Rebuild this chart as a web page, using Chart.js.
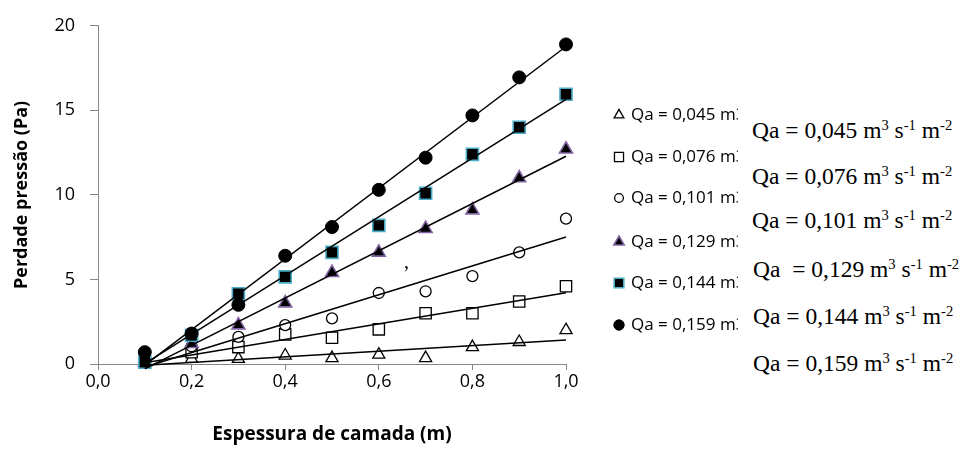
<!DOCTYPE html>
<html>
<head>
<meta charset="utf-8">
<script src="https://cdn.jsdelivr.net/npm/chart.js@4.4.1/dist/chart.umd.min.js"></script>
<style>
  html, body { margin: 0; padding: 0; background: #fff; }
  #wrap { position: relative; width: 967px; height: 454px; }
  .cover { position: absolute; left: 738px; width: 229px; background: #fff; }
  .eq {
    position: absolute; left: 752px; height: 30px; line-height: 30px;
    font-family: "Liberation Serif", "Times New Roman", serif; font-size: 23.5px; color: #000;
    white-space: pre;
  }
  .eq sup { font-size: 0.62em; vertical-align: baseline; position: relative; top: -0.55em; }
  #stray { position: absolute; left: 404px; top: 250px; font: 20px "Liberation Serif", serif; }
</style>
</head>
<body>
<div id="wrap">
  <canvas id="perdaChart" width="967" height="454"></canvas>
  <div class="cover" style="top:100px;height:54px"></div>
  <div class="cover" style="top:153px;height:247px"></div>
  <div class="eq" style="top:115px">Qa = 0,045 m<sup>3</sup> s<sup>-1</sup> m<sup>-2</sup></div>
  <div class="eq" style="top:161px">Qa = 0,076 m<sup>3</sup> s<sup>-1</sup> m<sup>-2</sup></div>
  <div class="eq" style="top:205px">Qa = 0,101 m<sup>3</sup> s<sup>-1</sup> m<sup>-2</sup></div>
  <div class="eq" style="top:254px;left:753px">Qa  = 0,129 m<sup>3</sup> s<sup>-1</sup> m<sup>-2</sup></div>
  <div class="eq" style="top:301px;left:753px">Qa = 0,144 m<sup>3</sup> s<sup>-1</sup> m<sup>-2</sup></div>
  <div class="eq" style="top:348px;left:753px">Qa = 0,159 m<sup>3</sup> s<sup>-1</sup> m<sup>-2</sup></div>
  <span id="stray">,</span>
</div>
<script>
// Espessura de camada (m)
var espessura = [0.1, 0.2, 0.3, 0.4, 0.5, 0.6, 0.7, 0.8, 0.9, 1.0];

// Perda de pressão (Pa) pour chaque débit
var qa045 = [0.1, 0.3, 0.3, 0.5, 0.35, 0.55, 0.35, 1.0, 1.3, 2.0];
var qa076 = [0.1, 0.7, 1.0, 1.75, 1.55, 2.05, 3.0, 3.0, 3.7, 4.6];
var qa101 = [0.1, 1.05, 1.6, 2.3, 2.7, 4.2, 4.3, 5.2, 6.6, 8.6];
var qa129 = [0.1, 1.2, 2.3, 3.6, 5.4, 6.6, 8.0, 9.1, 11.0, 12.7];
var qa144 = [0.1, 1.7, 4.15, 5.15, 6.6, 8.2, 10.1, 12.4, 14.0, 15.95];
var qa159 = [0.7, 1.8, 3.5, 6.4, 8.1, 10.3, 12.2, 14.7, 16.95, 18.9];

var legendLabels = [
    'Qa = 0,045 m3 s-1 m-2',
    'Qa = 0,076 m3 s-1 m-2',
    'Qa = 0,101 m3 s-1 m-2',
    'Qa = 0,129 m3 s-1 m-2',
    'Qa = 0,144 m3 s-1 m-2',
    'Qa = 0,159 m3 s-1 m-2'
];

var series = [qa045, qa076, qa101, qa129, qa144, qa159];

// styles des marqueurs
var markers = [
    { pointStyle: 'triangle', radius: 7,   bg: '#ffffff', border: '#000000', bw: 1.3 },
    { pointStyle: 'rect',     radius: 8,   bg: '#ffffff', border: '#000000', bw: 1.3 },
    { pointStyle: 'circle',   radius: 5.5, bg: '#ffffff', border: '#000000', bw: 1.3 },
    { pointStyle: 'triangle', radius: 7.5, bg: '#000000', border: '#8064A2', bw: 1.6 },
    { pointStyle: 'rect',     radius: 8.5, bg: '#000000', border: '#4BACC6', bw: 1.6 },
    { pointStyle: 'circle',   radius: 6.5, bg: '#000000', border: '#000000', bw: 1 }
];

function toPoints(ys) {
    return ys.map(function (y, i) { return { x: espessura[i], y: y }; });
}

// Linha de tendência linear (mínimos quadrados)
function trend(ys) {
    var n = ys.length, mx = 0, my = 0, sxy = 0, sxx = 0;
    for (var i = 0; i < n; i++) { mx += espessura[i]; my += ys[i]; }
    mx /= n; my /= n;
    for (var j = 0; j < n; j++) {
        sxy += (espessura[j] - mx) * (ys[j] - my);
        sxx += (espessura[j] - mx) * (espessura[j] - mx);
    }
    var b = sxy / sxx, a = my - b * mx;
    var x0 = espessura[0], x1 = espessura[n - 1];
    return [{ x: x0, y: a + b * x0 }, { x: x1, y: a + b * x1 }];
}

var datasets = [];
series.forEach(function (ys, i) {
    datasets.push({
        label: 'trend ' + i,
        data: trend(ys),
        showLine: true,
        borderColor: '#000000',
        borderWidth: 1.5,
        pointRadius: 0,
        clip: false,
        order: 0
    });
});
series.forEach(function (ys, i) {
    var m = markers[i];
    datasets.push({
        label: legendLabels[i],
        data: toPoints(ys),
        pointStyle: m.pointStyle,
        pointRadius: m.radius,
        backgroundColor: m.bg,
        borderColor: m.border,
        borderWidth: m.bw,
        clip: false,
        order: 6 - i
    });
});

var legendRows = [115, 157, 198, 242, 283, 325];

var legendePlugin = {
    id: 'legendePlugin',
    afterDraw: function (chart) {
        var ctx = chart.ctx;
        ctx.save();
        ctx.font = '17px "Open Sans"';
        ctx.textBaseline = 'middle';
        ctx.textAlign = 'left';
        legendLabels.forEach(function (lab, i) {
            var m = markers[i];
            var y = legendRows[i];
            ctx.fillStyle = m.bg;
            ctx.strokeStyle = m.border;
            ctx.lineWidth = m.bw;
            Chart.helpers.drawPoint(ctx, { pointStyle: m.pointStyle, radius: m.radius * 0.8, borderWidth: m.bw, rotation: 0 }, 619, y);
            ctx.fillStyle = '#000000';
            ctx.fillText(lab, 631, y);
        });
        ctx.restore();
    }
};

var ctxPerda = document.getElementById('perdaChart').getContext('2d');
var perdaChart = new Chart(ctxPerda, {
    type: 'scatter',
    data: { datasets: datasets },
    plugins: [legendePlugin],
    options: {
        responsive: false,
        animation: false,
        devicePixelRatio: 1,
        layout: { padding: { left: 0, top: 23, right: 401, bottom: 0 } },
        plugins: { legend: { display: false }, tooltip: { enabled: false } },
        scales: {
            x: {
                type: 'linear',
                min: 0, max: 1,
                border: { color: '#868686', width: 1 },
                grid: { drawOnChartArea: false, drawTicks: true, tickLength: 6, color: '#868686' },
                ticks: {
                    stepSize: 0.2, padding: 1, color: '#000000',
                    font: { family: 'Open Sans', size: 18 },
                    callback: function (v) { return v.toFixed(1).replace('.', ','); }
                },
                title: {
                    display: true, text: 'Espessura de camada (m)', color: '#000000',
                    font: { family: 'Open Sans', size: 19, weight: 'bold' },
                    padding: { top: 0, bottom: 8 }
                },
                afterFit: function (s) { s.height = 90; }
            },
            y: {
                min: 0, max: 20,
                border: { color: '#868686', width: 1 },
                grid: { drawOnChartArea: false, drawTicks: true, tickLength: 8, color: '#868686' },
                ticks: {
                    stepSize: 5, padding: 15, color: '#000000',
                    font: { family: 'Open Sans', size: 18 }
                },
                title: {
                    display: true, text: 'Perdade pressão (Pa)', color: '#000000',
                    font: { family: 'Open Sans', size: 18, weight: 'bold' },
                    padding: { top: 11, bottom: 0 }
                },
                afterFit: function (s) { s.width = 98; }
            }
        }
    }
});
</script>
</body>
</html>
